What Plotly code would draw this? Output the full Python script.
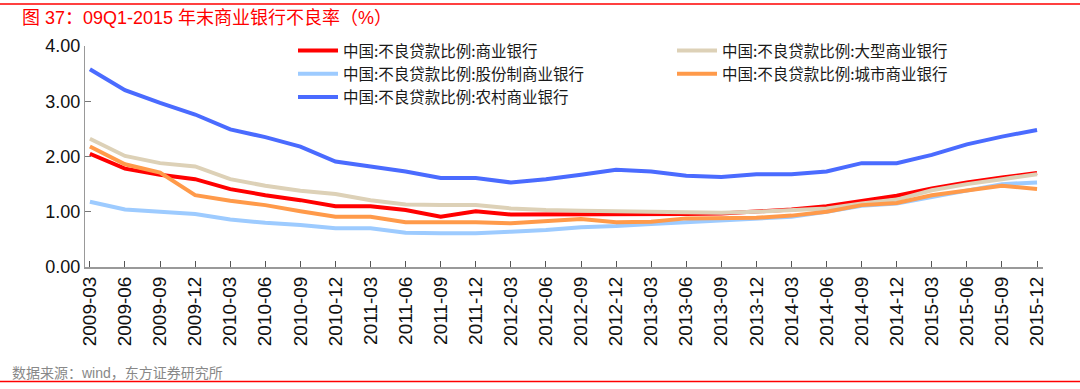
import plotly.graph_objects as go

categories = ["2009-03","2009-06","2009-09","2009-12","2010-03","2010-06","2010-09","2010-12",
              "2011-03","2011-06","2011-09","2011-12","2012-03","2012-06","2012-09","2012-12",
              "2013-03","2013-06","2013-09","2013-12","2014-03","2014-06","2014-09","2014-12",
              "2015-03","2015-06","2015-09","2015-12"]

commercial = [2.05, 1.78, 1.67, 1.59, 1.41, 1.30, 1.21, 1.10, 1.10, 1.03, 0.91, 1.01, 0.95, 0.95,
              0.95, 0.95, 0.95, 0.96, 0.97, 1.00, 1.04, 1.10, 1.20, 1.29, 1.42, 1.53, 1.62, 1.70]
large = [2.32, 2.01, 1.88, 1.82, 1.59, 1.47, 1.38, 1.32, 1.21, 1.13, 1.12, 1.12, 1.06, 1.03,
         1.02, 1.01, 1.00, 1.00, 0.98, 1.00, 1.03, 1.06, 1.15, 1.22, 1.39, 1.50, 1.59, 1.68]
joint_stock = [1.18, 1.04, 1.00, 0.96, 0.86, 0.80, 0.76, 0.70, 0.70, 0.62, 0.61, 0.61, 0.64, 0.67,
               0.72, 0.74, 0.78, 0.81, 0.85, 0.87, 0.91, 1.00, 1.11, 1.15, 1.27, 1.38, 1.50, 1.53]
city = [2.18, 1.86, 1.71, 1.30, 1.20, 1.12, 1.01, 0.91, 0.91, 0.81, 0.81, 0.81, 0.79, 0.83,
        0.87, 0.81, 0.82, 0.88, 0.88, 0.89, 0.93, 1.00, 1.12, 1.16, 1.30, 1.39, 1.47, 1.41]
rural = [3.58, 3.20, 2.97, 2.76, 2.49, 2.35, 2.18, 1.91, 1.82, 1.73, 1.61, 1.61, 1.53, 1.59,
         1.67, 1.76, 1.73, 1.65, 1.63, 1.68, 1.68, 1.73, 1.88, 1.88, 2.03, 2.22, 2.36, 2.48]

series = [
    ("中国:不良贷款比例:商业银行", commercial, "#FF0000", "legend"),
    ("中国:不良贷款比例:大型商业银行", large, "#DDD1B7", "legend2"),
    ("中国:不良贷款比例:股份制商业银行", joint_stock, "#9DCBFF", "legend"),
    ("中国:不良贷款比例:城市商业银行", city, "#FF9A4A", "legend2"),
    ("中国:不良贷款比例:农村商业银行", rural, "#4A6BFF", "legend"),
]

fig = go.Figure()
for name, vals, color, lg in series:
    fig.add_trace(go.Scatter(x=categories, y=vals, name=name, mode="lines",
                             line=dict(color=color, width=4), legend=lg))

W, H = 1080, 389
ml, mr, mt, mb = 85, 37, 46, 122
pw, ph = W - ml - mr, H - mt - mb

def px_x(p):
    return (p - ml) / pw

def px_y(p):
    return (H - mb - p) / ph

cjk = "Noto Sans CJK SC"
mixed = "Liberation Sans, Arial, Noto Sans CJK SC"
latin = "Liberation Sans, Arial"

fig.update_layout(
    width=W, height=H,
    margin=dict(l=ml, r=mr, t=mt, b=mb),
    paper_bgcolor="white", plot_bgcolor="white",
    showlegend=True,
    legend=dict(x=px_x(293), y=px_y(34), xanchor="left", yanchor="top",
                font=dict(family=cjk, size=15.5, color="#1a1a1a"),
                bgcolor="rgba(0,0,0,0)", tracegroupgap=0, itemwidth=40),
    legend2=dict(x=px_x(672), y=px_y(34), xanchor="left", yanchor="top",
                 font=dict(family=cjk, size=15.5, color="#1a1a1a"),
                 bgcolor="rgba(0,0,0,0)", tracegroupgap=0, itemwidth=40),
    xaxis=dict(type="category", range=[-0.14, 27.17], showgrid=False,
               showline=True, linecolor="#999999", linewidth=2,
               ticks="inside", ticklen=6, tickcolor="#555555", tickwidth=1,
               tickangle=-90, tickfont=dict(family=latin, size=19, color="#111111")),
    yaxis=dict(range=[0, 4], dtick=1, tickformat=".2f", showgrid=False, zeroline=False,
               showline=True, linecolor="#999999", linewidth=1,
               ticks="inside", ticklen=6, tickcolor="#777777",
               tickfont=dict(family=latin, size=18, color="#111111")),
    annotations=[
        dict(text="图 37：09Q1-2015 年末商业银行不良率（%）", xref="paper", yref="paper",
             x=px_x(20), y=px_y(18), xanchor="left", yanchor="middle", showarrow=False,
             font=dict(family=mixed, size=18, color="#FF0000")),
        dict(text="数据来源：wind，东方证券研究所", xref="paper", yref="paper",
             x=px_x(10), y=px_y(373), xanchor="left", yanchor="middle", showarrow=False,
             font=dict(family=mixed, size=14, color="#888888")),
    ],
    shapes=[
        dict(type="line", xref="paper", yref="paper", x0=-0.2, x1=1.2,
             y0=px_y(4), y1=px_y(4), line=dict(color="#FF0000", width=1.5)),
        dict(type="line", xref="paper", yref="paper", x0=-0.2, x1=1.2,
             y0=px_y(381.5), y1=px_y(381.5), line=dict(color="#FF0000", width=1.5)),
    ],
)

fig.write_html("out.html", config={"displayModeBar": False},
               post_script="document.body.style.margin='0';document.body.style.padding='0';")
